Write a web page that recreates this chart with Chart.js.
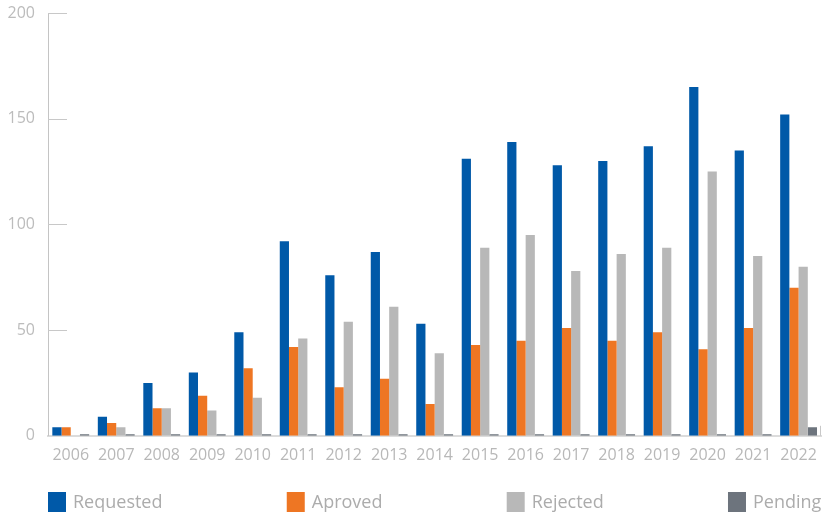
<!DOCTYPE html>
<html>
<head>
<meta charset="utf-8">
<script src="https://cdn.jsdelivr.net/npm/chart.js@4"></script>
<style>
  html, body { margin: 0; padding: 0; background: #fff; }
  #wrap { width: 827px; height: 517px; }
</style>
</head>
<body>
<div id="wrap"><canvas id="c1" width="827" height="517"></canvas></div>
<script>
var years = ['2006','2007','2008','2009','2010','2011','2012','2013','2014','2015','2016','2017','2018','2019','2020','2021','2022'];
var requested = [4, 9, 25, 30, 49, 92, 76, 87, 53, 131, 139, 128, 130, 137, 165, 135, 152];
var aproved   = [4, 6, 13, 19, 32, 42, 23, 27, 15, 43, 45, 51, 45, 49, 41, 51, 70];
var rejected  = [0, 4, 13, 12, 18, 46, 54, 61, 39, 89, 95, 78, 86, 89, 125, 85, 80];
var pending   = [0.7, 0.7, 0.7, 0.7, 0.7, 0.7, 0.7, 0.7, 0.7, 0.7, 0.7, 0.7, 0.7, 0.7, 0.7, 0.7, 4];
var yTicks = [0, 50, 100, 150, 200];

// short tick marks drawn to the right of the y axis, plus the end tick of the x axis
var innerTicks = {
  id: 'innerTicks',
  afterDraw: function(chart) {
    var y = chart.scales.y, x = chart.scales.x, ctx = chart.ctx;
    ctx.save();
    ctx.strokeStyle = '#c8c8c8';
    ctx.lineWidth = 1;
    yTicks.forEach(function(v) {
      if (v === 0) return;
      var py = Math.round(y.getPixelForValue(v)) + 0.5;
      ctx.beginPath();
      ctx.moveTo(y.right, py);
      ctx.lineTo(y.right + 19, py);
      ctx.stroke();
    });
    var ex = Math.round(x.right) - 0.5;
    ctx.beginPath();
    ctx.moveTo(ex, x.top);
    ctx.lineTo(ex, x.top - 10);
    ctx.stroke();
    ctx.restore();
  }
};

// legend spread across the plot width
var wideLegend = {
  id: 'wideLegend',
  afterDraw: function(chart) {
    var ctx = chart.ctx, area = chart.chartArea;
    var sets = chart.data.datasets;
    ctx.save();
    ctx.font = '18px "Open Sans"';
    ctx.textBaseline = 'middle';
    var widths = sets.map(function(d) { return 18 + 7 + ctx.measureText(d.label).width; });
    var total = widths.reduce(function(a, b) { return a + b; }, 0);
    var gap = (area.right - area.left - total) / (sets.length - 1);
    var x = area.left, cy = 502;
    sets.forEach(function(d, i) {
      ctx.fillStyle = d.backgroundColor;
      ctx.fillRect(x, cy - 10, 18, 20);
      ctx.fillStyle = '#acacac';
      ctx.fillText(d.label, x + 25, cy + 1);
      x += widths[i] + gap;
    });
    ctx.restore();
  }
};

var ctx = document.getElementById('c1').getContext('2d');
var chart1 = new Chart(ctx, {
  type: 'bar',
  data: {
    labels: years,
    datasets: [
      { label: 'Requested', backgroundColor: '#0059a8', data: requested },
      { label: 'Aproved', backgroundColor: '#ee7623', data: aproved },
      { label: 'Rejected', backgroundColor: '#b8b8b8', data: rejected },
      { label: 'Pending', backgroundColor: '#6d747d', data: pending }
    ]
  },
  options: {
    responsive: false,
    animation: false,
    layout: { padding: { left: 0, right: 4, top: 13, bottom: 42 } },
    datasets: { bar: { categoryPercentage: 0.81, barPercentage: 1 } },
    font: { family: '"Open Sans"' },
    scales: {
      x: {
        grid: { display: false, drawTicks: false },
        border: { color: '#dcdcdc', width: 2 },
        ticks: { color: '#b8b8b8', font: { family: '"Open Sans"', size: 16 }, padding: 10 }
      },
      y: {
        min: 0, max: 200,
        afterBuildTicks: function(s) { s.ticks = yTicks.map(function(v) { return { value: v }; }); },
        afterFit: function(s) { s.width = 48; s.paddingTop = 0; s.paddingBottom = 0; },
        grid: { display: false, drawTicks: false },
        border: { color: '#c4c4c4', width: 1 },
        ticks: { color: '#bcbcbc', font: { family: '"Open Sans"', size: 16 }, padding: 13 }
      }
    },
    plugins: {
      tooltip: { enabled: false },
      legend: { display: false }
    }
  },
  plugins: [innerTicks, wideLegend]
});
</script>
</body>
</html>
